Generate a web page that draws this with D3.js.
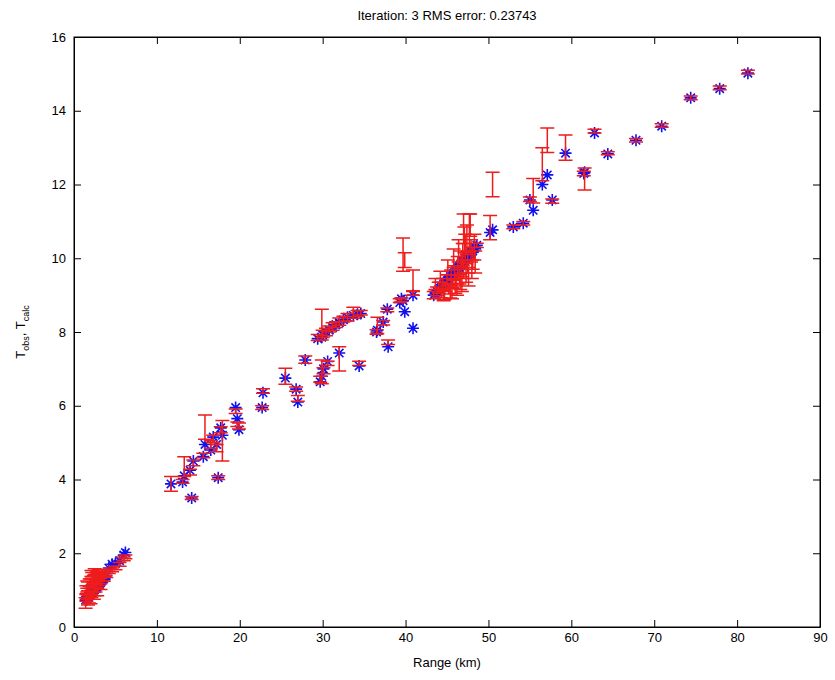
<!DOCTYPE html>
<meta charset="utf-8">
<style>
body { margin: 0; background: #fff; }
svg { font-family: "Liberation Sans", Arial, sans-serif; }
.axis text { font-size: 13px; fill: #000; }
.axis path, .axis line { stroke: #000; stroke-width: 1; }
.err { stroke: #ee1c1c; stroke-width: 1.5; fill: none; }
.star { stroke: #1010f0; stroke-width: 1.6; fill: none; }
</style>
<svg width="835" height="680"></svg>
<script src="https://d3js.org/d3.v7.min.js"></script>
<script>

// range (km), observed T, error on observed T, calculated T
// near field 0-7 km
var ranges0 = [1.4,1.5,1.6,1.7,1.8,1.9,2.0,2.1,2.2,2.3,2.4,2.5,2.6,2.7,2.8,2.9,3.0,3.1,3.2,3.3,3.5,3.8,4.2,4.6,5.0,5.5,6.0,6.2,
               1.5,1.7,1.9,2.0,2.2,2.4,2.6,2.8,3.0,3.2,3.4,3.6,2.1,2.5,1.6,3.9];
var tObs0   = [0.65,1.0,0.85,1.1,0.75,1.0,1.2,0.9,1.25,1.05,1.3,0.95,1.35,1.15,1.4,1.2,1.35,1.25,1.4,1.3,1.45,1.45,1.5,1.55,1.6,1.7,1.85,1.9,
               0.8,0.7,1.2,0.75,1.4,0.85,1.05,0.95,1.5,1.1,1.5,1.3,1.45,1.5,1.15,1.4];
var tErr0   = [0.14,0.12,0.1,0.12,0.1,0.12,0.1,0.1,0.12,0.1,0.1,0.1,0.12,0.08,0.1,0.08,0.1,0.08,0.08,0.06,0.06,0.06,0.05,0.05,0.05,0.05,0.05,0.05,
               0.1,0.1,0.1,0.12,0.08,0.1,0.1,0.1,0.06,0.08,0.06,0.06,0.08,0.08,0.1,0.06];
var tCalc0  = [0.73,0.75,0.78,0.81,0.84,0.86,0.89,0.92,0.94,0.97,1.0,1.03,1.05,1.08,1.11,1.13,1.16,1.19,1.21,1.24,1.3,1.38,1.6,1.7,1.72,1.8,1.95,2.02,
               0.74,0.8,0.86,0.88,0.94,1.0,1.05,1.1,1.16,1.21,1.27,1.32,0.92,1.03,0.78,1.4];

// 10-28 km
var ranges1 = [11.7,13.1,13.3,14.2,14.0,14.4,15.6,15.8,16.5,16.8,17.2,17.9,17.4,17.7,19.5,19.7,19.9,22.8,22.7,25.5,26.8,27.0,27.9];
var tObs1   = [3.88,3.95,4.35,3.5,4.2,4.45,4.65,5.42,4.95,5.1,4.85,5.05,4.05,5.35,5.85,5.5,5.45,6.4,5.95,6.8,6.45,6.2,7.25];
var tErr1   = [0.2,0.05,0.27,0.04,0.08,0.08,0.06,0.33,0.1,0.1,0.1,0.55,0.05,0.08,0.06,0.06,0.08,0.06,0.05,0.22,0.06,0.08,0.1];
var tCalc1  = [3.88,3.93,4.1,3.5,4.25,4.5,4.62,4.95,4.8,5.15,4.95,5.2,4.05,5.4,5.95,5.65,5.35,6.35,5.95,6.75,6.45,6.1,7.24];

// 29-41 km
var ranges2 = [29.7,29.9,30.1,30.6,32.0,34.4,29.9,29.4,30.0,30.4,30.8,31.2,31.6,32.0,32.5,33.0,33.7,34.2,34.6,36.5,36.6,37.3,37.9,37.8,39.3,39.5,39.7,39.9,40.9,40.9];
var tObs2   = [6.72,6.92,6.95,7.15,7.27,7.15,8.2,7.85,7.95,8.0,8.08,8.15,8.2,8.28,8.35,8.4,8.52,8.5,8.52,8.0,8.18,8.25,7.72,8.6,8.85,8.88,10.1,9.95,9.4,9.05];
var tErr2   = [0.08,0.32,0.08,0.06,0.33,0.06,0.42,0.08,0.1,0.1,0.08,0.1,0.08,0.1,0.08,0.1,0.15,0.08,0.06,0.06,0.22,0.06,0.06,0.05,0.05,0.05,0.45,0.2,0.28,0.05];
var tCalc2  = [6.65,6.8,7.0,7.2,7.43,7.08,7.86,7.82,7.92,8.0,8.05,8.12,8.2,8.25,8.33,8.4,8.45,8.48,8.5,8.0,8.05,8.27,7.6,8.62,8.8,8.9,8.85,8.55,9.0,8.1];

// 43-49 km
var ranges3 = [43.4,43.8,44.0,44.3,44.5,44.8,45.0,45.2,45.5,45.7,45.9,46.1,46.3,46.5,46.7,46.9,47.0,47.2,47.4,47.5,47.7,47.9,48.1,48.3,48.6,44.6,45.4,46.0,46.6,47.3,
               43.6,44.2,44.7,45.1,45.6,45.8,46.2,46.4,46.8,47.1,47.6,47.8,48.0,48.4,47.0];
var tObs3   = [9.0,9.1,9.2,9.05,9.3,9.2,9.4,9.15,9.5,9.3,9.6,9.4,9.8,9.5,9.9,10.1,9.7,10.3,10.5,9.9,10.7,10.2,10.0,10.3,10.35,9.0,9.1,9.25,9.35,9.6,
               9.3,9.5,9.0,9.75,9.05,10.0,9.15,10.2,9.3,10.5,9.5,10.9,9.7,9.9,10.8];
var tErr3   = [0.1,0.12,0.15,0.12,0.15,0.1,0.15,0.12,0.18,0.12,0.2,0.15,0.25,0.2,0.3,0.3,0.25,0.35,0.4,0.3,0.5,0.3,0.3,0.35,0.06,0.15,0.18,0.2,0.2,0.25,
               0.15,0.15,0.12,0.2,0.15,0.25,0.15,0.3,0.2,0.35,0.25,0.3,0.25,0.3,0.4];
var tCalc3  = [9.0,9.1,9.15,9.2,9.25,9.33,9.38,9.43,9.51,9.56,9.61,9.67,9.72,9.78,9.83,9.88,9.91,9.96,10.02,10.04,10.1,10.15,10.2,10.26,10.35,9.3,9.5,9.66,9.82,10.0,
               9.05,9.18,9.3,9.4,9.52,9.58,9.69,9.75,9.85,9.93,10.06,10.12,10.18,10.3,9.9];

// 50-82 km
var ranges4 = [50.2,50.5,53.0,54.2,55.0,55.4,56.5,57.1,57.7,59.3,61.6,61.5,62.8,64.4,67.8,70.9,74.4,77.9,81.3];
var tObs4   = [10.83,12.0,10.85,10.95,11.6,11.83,12.55,13.2,11.55,13.0,12.15,12.3,13.45,12.85,13.2,13.6,14.35,14.62,15.05];
var tErr4   = [0.33,0.33,0.05,0.05,0.06,0.33,0.45,0.33,0.06,0.34,0.3,0.06,0.05,0.04,0.05,0.05,0.05,0.05,0.05];
var tCalc4  = [10.7,10.77,10.85,10.95,11.58,11.3,12.0,12.26,11.58,12.85,12.33,12.3,13.4,12.83,13.2,13.58,14.35,14.6,15.02];

var xTicks = [0,10,20,30,40,50,60,70,80,90];
var yTicks = [0,2,4,6,8,10,12,14,16];
var titleText = "Iteration: 3 RMS error: 0.23743";

var ranges = [].concat(ranges0, ranges1, ranges2, ranges3, ranges4),
    tObs = [].concat(tObs0, tObs1, tObs2, tObs3, tObs4),
    tErr = [].concat(tErr0, tErr1, tErr2, tErr3, tErr4),
    tCalc = [].concat(tCalc0, tCalc1, tCalc2, tCalc3, tCalc4);

var data = ranges.map(function(r, i) {
  return {r: r, obs: tObs[i], err: tErr[i], calc: tCalc[i]};
});

var svg = d3.select("svg"),
    margin = {top: 37, right: 15, bottom: 53, left: 74},
    width = +svg.attr("width") - margin.left - margin.right,
    height = +svg.attr("height") - margin.top - margin.bottom,
    g = svg.append("g").attr("transform", "translate(" + margin.left + "," + margin.top + ")");

var x = d3.scaleLinear().domain([0, 90]).range([0, width]);
var y = d3.scaleLinear().domain([0, 16]).range([height, 0]);
var tick = 7, cap = 7;

// axes, ticks pointing inward on all four sides
g.append("g")
  .attr("class", "axis axis--x")
  .attr("transform", "translate(0," + height + ")")
  .call(d3.axisBottom(x).tickValues(xTicks).tickSizeInner(-tick).tickSizeOuter(0).tickPadding(6));
g.append("g")
  .attr("class", "axis")
  .call(d3.axisTop(x).tickValues(xTicks).tickSizeInner(-tick).tickSizeOuter(0).tickFormat(""));
g.append("g")
  .attr("class", "axis axis--y")
  .call(d3.axisLeft(y).tickValues(yTicks).tickSizeInner(-tick).tickSizeOuter(0).tickPadding(8));
g.append("g")
  .attr("class", "axis")
  .attr("transform", "translate(" + width + ",0)")
  .call(d3.axisRight(y).tickValues(yTicks).tickSizeInner(-tick).tickSizeOuter(0).tickFormat(""));
g.append("rect")
  .attr("width", width).attr("height", height)
  .attr("fill", "none").attr("stroke", "#000");

// calculated values: blue asterisks
var star = "M-6,0H6M0,-6V6M-4.2,-4.2L4.2,4.2M-4.2,4.2L4.2,-4.2";
g.selectAll(".star")
  .data(data)
  .enter().append("path")
  .attr("class", "star")
  .attr("transform", function(d) { return "translate(" + x(d.r) + "," + y(d.calc) + ")"; })
  .attr("d", star);

// observed values: red error bars
g.selectAll(".err")
  .data(data)
  .enter().append("path")
  .attr("class", "err")
  .attr("d", function(d) {
    var cx = x(d.r), lo = y(d.obs - d.err), hi = y(d.obs + d.err);
    return "M" + cx + "," + lo + "V" + hi +
           "M" + (cx - cap) + "," + lo + "H" + (cx + cap) +
           "M" + (cx - cap) + "," + hi + "H" + (cx + cap);
  });

// labels
svg.append("text")
  .attr("x", margin.left + width / 2).attr("y", 20)
  .attr("text-anchor", "middle").style("font-size", "13px")
  .text(titleText);

svg.append("text")
  .attr("x", margin.left + width / 2).attr("y", 667)
  .attr("text-anchor", "middle").style("font-size", "13px")
  .text("Range (km)");

var yl = svg.append("text")
  .attr("transform", "translate(25," + (margin.top + height / 2) + ") rotate(-90)")
  .attr("text-anchor", "middle").style("font-size", "13px");
yl.append("tspan").text("T");
yl.append("tspan").attr("dy", 4).style("font-size", "9px").text("obs");
yl.append("tspan").attr("dy", -4).text(", T");
yl.append("tspan").attr("dy", 4).style("font-size", "9px").text("calc");

</script>
